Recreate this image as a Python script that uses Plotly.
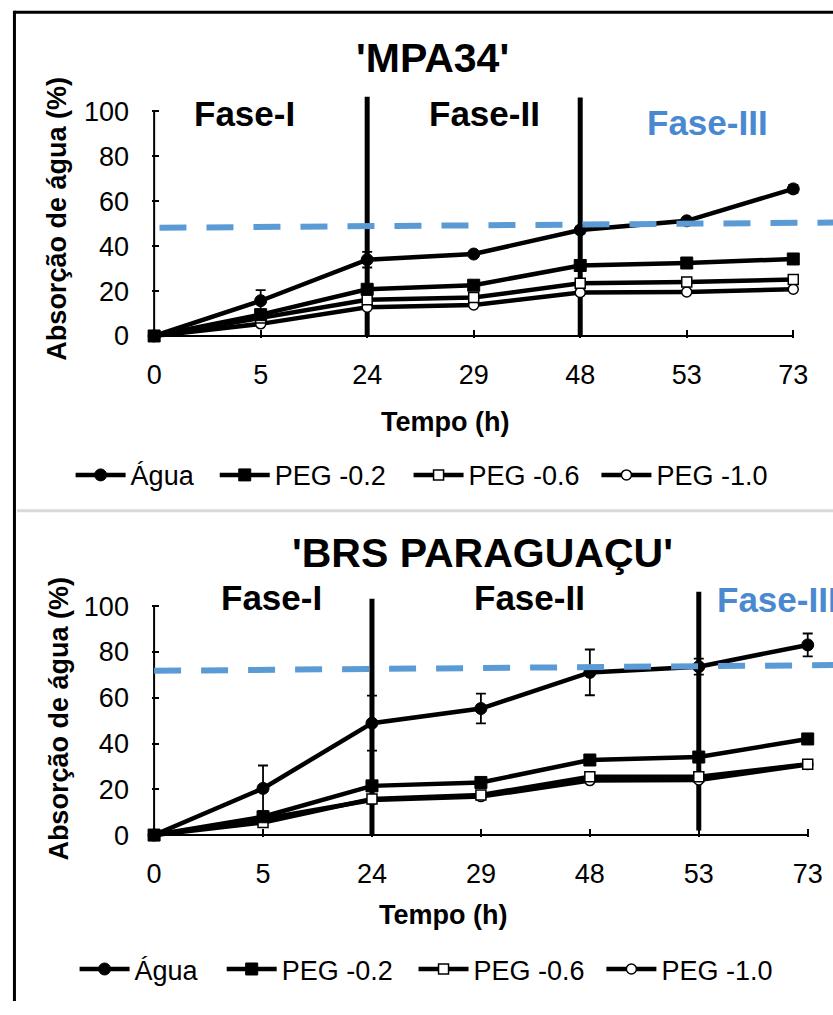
import plotly.graph_objects as go

# ---------------- data ----------------
time_labels = ["0", "5", "24", "29", "48", "53", "73"]
cat_idx = [0, 1, 2, 3, 4, 5, 6]
series_names = ["Água", "PEG -0.2", "PEG -0.6", "PEG -1.0"]

# 'MPA34'
agua_top = [0, 15.7, 34.0, 36.5, 47.2, 51.3, 65.5]
agua_top_err = [0, 4.7, 3.5, 1.0, 1.5, 1.0, 1.8]
peg02_top = [0, 9.5, 20.8, 22.6, 31.4, 32.5, 34.3]
peg06_top = [0, 8.0, 16.1, 17.1, 23.5, 24.0, 25.2]
peg10_top = [0, 5.4, 12.8, 13.8, 19.4, 19.6, 20.8]
phase_idx_top = [2, 4]          # boundaries at 24 h and 48 h
phase_top_hi = [106.6, 106.2]
phase_top_lo = [0, 0]
lim_top_x = [0.05, 6.373]
lim_top_y = [48.2, 50.5]

# 'BRS PARAGUAÇU'
agua_bot = [0, 20.4, 48.9, 55.3, 71.1, 73.6, 83.1]
agua_bot_err = [0, 10.0, 12.0, 6.5, 10.0, 3.5, 5.0]
peg02_bot = [0, 8.0, 21.5, 23.0, 32.8, 34.1, 42.0]
peg06_bot = [0, 5.5, 15.8, 17.5, 25.5, 25.5, 31.0]
peg10_bot = [0, 7.0, 15.3, 16.8, 23.8, 24.1, 30.8]
phase_idx_bot = [2, 5]          # boundaries at 24 h and 53 h
phase_bot_hi = [103.3, 106.3]
phase_bot_lo = [0, 2.0]
lim_bot_x = [0.0, 6.232]
lim_bot_y = [71.8, 74.3]

y_ticks = [0, 20, 40, 60, 80, 100]

FONT = "Liberation Sans, Arial, sans-serif"
BLUE = "#5B9BD5"
BLUE_TXT = "#4A89CF"

W, H = 833, 1015

fig = go.Figure()

styles = [
    dict(symbol="circle", size=12, color="black", line=dict(color="black", width=1)),
    dict(symbol="square", size=12, color="black", line=dict(color="black", width=1)),
    dict(symbol="square", size=10, color="white", line=dict(color="black", width=1.5)),
    dict(symbol="circle", size=10, color="white", line=dict(color="black", width=1.5)),
]

# legend entry left positions (px) for each chart
legend_x_top = [66, 211, 406, 595]
legend_x_bot = [70, 218, 411, 600]


def add_panel(xa, ya, legend_ids, series, err, phase_idx, phase_lo, phase_hi, lim_x, lim_y):
    # phase boundary lines
    for px, lo, hi in zip(phase_idx, phase_lo, phase_hi):
        fig.add_trace(go.Scatter(x=[px, px], y=[lo, hi], mode="lines",
                                 line=dict(color="black", width=5),
                                 xaxis=xa, yaxis=ya, showlegend=False, hoverinfo="skip"))
    # data series (drawn back to front so Água is on top)
    order = [3, 2, 1, 0]
    for i in order:
        vals = series[i]
        kw = {}
        if i == 0:
            kw["error_y"] = dict(type="data", array=err, visible=True,
                                 color="black", thickness=1.8, width=5)
        fig.add_trace(go.Scatter(
            x=cat_idx, y=vals, mode="lines+markers", name=series_names[i],
            line=dict(color="black", width=4.5),
            marker=styles[i], cliponaxis=False,
            xaxis=xa, yaxis=ya, legend=legend_ids[i], **kw))
    # phase-III limit (dashed blue)
    fig.add_trace(go.Scatter(x=lim_x, y=lim_y, mode="lines",
                             line=dict(color=BLUE, width=6, dash="27px,20px"),
                             xaxis=xa, yaxis=ya, showlegend=False, hoverinfo="skip"))


top_leg_ids = ["legend", "legend2", "legend3", "legend4"]
bot_leg_ids = ["legend5", "legend6", "legend7", "legend8"]

add_panel("x", "y", top_leg_ids,
          [agua_top, peg02_top, peg06_top, peg10_top], agua_top_err,
          phase_idx_top, phase_top_lo, phase_top_hi, lim_top_x, lim_top_y)
add_panel("x2", "y2", bot_leg_ids,
          [agua_bot, peg02_bot, peg06_bot, peg10_bot], agua_bot_err,
          phase_idx_bot, phase_bot_lo, phase_bot_hi, lim_bot_x, lim_bot_y)

tickfont = dict(family=FONT, size=27, color="black")


def xaxis_cfg(domain, rng):
    return dict(domain=domain, range=rng, tickmode="array", tickvals=cat_idx,
                ticktext=time_labels, ticks="inside", ticklen=8, tickwidth=2,
                tickcolor="black", showline=False, showgrid=False, zeroline=False,
                tickfont=tickfont, ticklabelstandoff=18, fixedrange=True)


def yaxis_cfg(domain, rng):
    return dict(domain=domain, range=rng, tickmode="array", tickvals=y_ticks,
                ticks="inside", ticklen=7, tickwidth=2, tickcolor="black",
                showline=False, showgrid=False, zeroline=False,
                tickfont=tickfont, ticklabelstandoff=22, fixedrange=True)


def pyc(px):
    return 1 - px / H


fig.update_layout(
    width=W, height=H,
    margin=dict(l=0, r=0, t=0, b=0),
    paper_bgcolor="white", plot_bgcolor="rgba(0,0,0,0)",
    font=dict(family=FONT, color="black"),
    xaxis=dict(**xaxis_cfg([147.9 / W, 1], [-0.02, 6.373]), anchor="y"),
    yaxis=dict(**yaxis_cfg([pyc(342.5), pyc(94.8)], [-0.8, 108]), anchor="x"),
    xaxis2=dict(**xaxis_cfg([147.8 / W, 1], [-0.02, 6.232]), anchor="y2"),
    yaxis2=dict(**yaxis_cfg([pyc(848.6), pyc(598.5)], [-0.8, 107]), anchor="x2"),
    showlegend=True,
)

leg_common = dict(orientation="h", xref="paper", yref="paper", xanchor="left",
                  yanchor="middle", bgcolor="rgba(0,0,0,0)",
                  font=dict(family=FONT, size=27, color="black"),
                  itemwidth=50, itemclick=False, itemdoubleclick=False)
legend_layout = {}
for lid, lx in zip(top_leg_ids, legend_x_top):
    legend_layout[lid] = dict(**leg_common, x=lx / W, y=pyc(482))
for lid, lx in zip(bot_leg_ids, legend_x_bot):
    legend_layout[lid] = dict(**leg_common, x=lx / W, y=pyc(983))
fig.update_layout(**legend_layout)

# axis lines (drawn in data coordinates so they stop at the last category / 100 %)
for xr, yr in (("x", "y"), ("x2", "y2")):
    fig.add_shape(type="line", xref=xr, yref=yr, x0=cat_idx[0], x1=cat_idx[-1],
                  y0=0, y1=0, line=dict(color="black", width=2), layer="below")
    fig.add_shape(type="line", xref=xr, yref=yr, x0=cat_idx[0], x1=cat_idx[0],
                  y0=0, y1=y_ticks[-1], line=dict(color="black", width=2), layer="below")

# frame: outer border and separator between the two charts
fig.add_shape(type="line", xref="paper", yref="paper", x0=9.5 / W, x1=1,
              y0=pyc(12.5), y1=pyc(12.5), line=dict(color="black", width=3))
fig.add_shape(type="line", xref="paper", yref="paper", x0=9.5 / W, x1=9.5 / W,
              y0=pyc(11), y1=0, line=dict(color="black", width=3))
fig.add_shape(type="line", xref="paper", yref="paper", x0=12 / W, x1=1,
              y0=pyc(518), y1=pyc(518), line=dict(color="#D9D9D9", width=3))


def ann(text, x, y, size, bold=True, color="black", angle=0, xanchor="center"):
    fig.add_annotation(text=f"<b>{text}</b>" if bold else text, x=x / W, y=pyc(y),
                       xref="paper", yref="paper", showarrow=False,
                       xanchor=xanchor, yanchor="middle", textangle=angle,
                       font=dict(family=FONT, size=size, color=color))


# top chart texts
ann("'MPA34'", 430, 59, 41)
ann("Fase-I", 241, 115, 35)
ann("Fase-II", 482, 115, 35)
ann("Fase-III", 707, 124, 35, color=BLUE_TXT)
ann("Absorção de água (%)", 52, 222, 27, angle=-90)
ann("Tempo (h)", 443, 428, 27)

# bottom chart texts
ann("'BRS PARAGUAÇU'", 480, 561, 41)
ann("Fase-I", 268, 606, 35)
ann("Fase-II", 528, 606, 35)
ann("Fase-III", 714, 608, 35, color=BLUE_TXT, xanchor="left")
ann("Absorção de água (%)", 54, 729, 27, angle=-90)
ann("Tempo (h)", 441, 928, 27)

fig.write_html("out.html")
